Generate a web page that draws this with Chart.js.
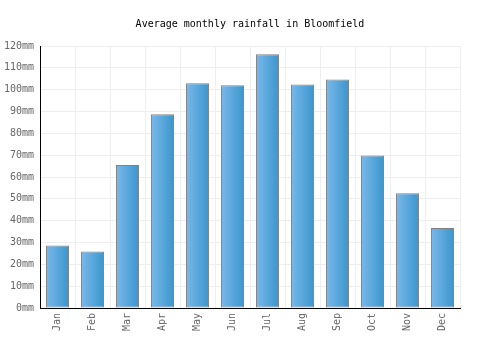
<!DOCTYPE html>
<html>
<head>
<meta charset="utf-8">
<script src="https://cdn.jsdelivr.net/npm/chart.js@4.4.0/dist/chart.umd.min.js"></script>
<style>
    html, body { margin: 0; padding: 0; background: #fff; }
    #wrap { width: 500px; height: 350px; }
</style>
</head>
<body>
<div id="wrap"><canvas id="rainChart"></canvas></div>
<script>
const months = ['Jan', 'Feb', 'Mar', 'Apr', 'May', 'Jun', 'Jul', 'Aug', 'Sep', 'Oct', 'Nov', 'Dec'];
const rainfall = [28.6, 25.9, 65.5, 88.7, 102.9, 102.0, 116.2, 102.4, 104.7, 69.9, 52.6, 36.6];
const yMax = 120;
const yStep = 10;

const monoFont = { family: '"DejaVu Sans Mono", monospace', size: 10 };
const barPct = 0.66;

// horizontal gradient across each bar, light on the left, darker on the right
function barGradient(context) {
    const chart = context.chart;
    const xScale = chart.scales.x;
    if (!xScale || context.dataIndex === undefined) return '#5aa7dd';
    const center = xScale.getPixelForValue(context.dataIndex);
    const half = (xScale.width / months.length) * barPct / 2;
    if (!isFinite(center) || !isFinite(half) || half <= 0) return '#5aa7dd';
    const g = chart.ctx.createLinearGradient(center - half, 0, center + half, 0);
    g.addColorStop(0, '#7ab8ea');
    g.addColorStop(1, '#3a96cd');
    return g;
}

let rainChart;

document.addEventListener('DOMContentLoaded', function () {
    const ctx = document.getElementById('rainChart');
    rainChart = new Chart(ctx, {
        type: 'bar',
        data: {
            labels: months,
            datasets: [{
                label: 'rainfall',
                data: rainfall,
                backgroundColor: barGradient,
                borderColor: '#808080',
                borderWidth: 1,
                borderSkipped: false,
                categoryPercentage: 1,
                barPercentage: barPct
            }]
        },
        options: {
            responsive: true,
            maintainAspectRatio: false,
            animation: false,
            layout: { padding: 0 },
            plugins: {
                legend: { display: false },
                tooltip: { enabled: false },
                title: {
                    display: true,
                    text: 'Average monthly rainfall in Bloomfield',
                    color: '#000',
                    font: { family: monoFont.family, size: 10, weight: 'normal' },
                    padding: { top: 18, bottom: 16 }
                }
            },
            scales: {
                y: {
                    min: 0,
                    max: yMax,
                    ticks: {
                        stepSize: yStep,
                        color: '#666',
                        font: monoFont,
                        padding: 6,
                        callback: function (v) { return v + 'mm'; }
                    },
                    grid: { color: '#eeeeee', drawTicks: false },
                    border: { color: '#000', width: 1, z: 1 },
                    afterFit: function (axis) { axis.width = 40; }
                },
                // empty right-hand axis, only keeps a 40px margin so the title stays centred on the page
                yRight: {
                    position: 'right',
                    grid: { display: false },
                    ticks: { display: false },
                    border: { display: false },
                    afterFit: function (axis) { axis.width = 40; }
                },
                x: {
                    ticks: {
                        color: '#666',
                        font: monoFont,
                        minRotation: 90,
                        maxRotation: 90,
                        padding: 5
                    },
                    grid: { color: '#eeeeee', drawTicks: false, offset: true },
                    border: { color: '#000', width: 1, z: 1 },
                    afterFit: function (axis) { axis.height = 42; }
                }
            }
        }
    });
    rainChart.update('none');
});
</script>
</body>
</html>
